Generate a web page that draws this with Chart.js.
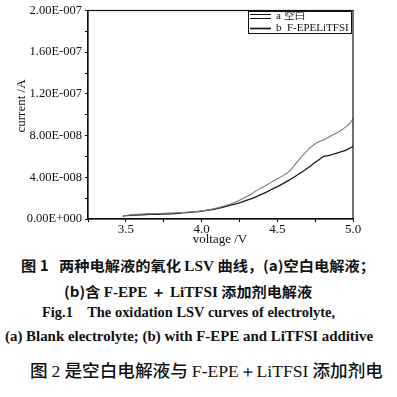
<!DOCTYPE html>
<html>
<head>
<meta charset="utf-8">
<script src="https://cdn.jsdelivr.net/npm/chart.js@4/dist/chart.umd.min.js"></script>
<style>
  body { margin: 0; background: #fff; width: 397px; height: 397px; overflow: hidden; position: relative; }
  #wrap { position: absolute; left: 0; top: 0; width: 397px; height: 250px; }
  .cap { position: absolute; white-space: nowrap; transform-origin: 0 50%; color: #111; line-height: 1; }
  .zh { font-family: "Noto Sans CJK SC", sans-serif; font-weight: 700; }
  .en { font-family: "Liberation Serif", "Times New Roman", serif; font-weight: 700; }
</style>
</head>
<body>
<div id="wrap"><canvas id="lsvChart" width="397" height="250"></canvas></div>

<div class="cap zh" data-l="21" data-r="375" style="top:258px;font-size:14px">图 1&nbsp;&nbsp; 两种电解液的氧化 <span class="en">LSV</span> 曲线，(a)空白电解液；</div>
<div class="cap zh" data-l="64" data-r="312" style="top:284px;font-size:14px">(b)含 <span class="en">F-EPE ＋ LiTFSI</span> 添加剂电解液</div>
<div class="cap en" data-l="42" data-r="335" style="top:306px;font-size:14px">Fig.1&nbsp;&nbsp;&nbsp; The oxidation LSV curves of electrolyte,</div>
<div class="cap en" data-l="5" data-r="373" style="top:330px;font-size:14px">(a) Blank electrolyte; (b) with F-EPE and LiTFSI additive</div>
<div class="cap zh" data-l="30" data-r="383" style="top:361px;font-size:17px;font-weight:500">图 <span style="font-family:'Liberation Serif',serif;font-weight:400">2</span> 是空白电解液与 <span style="font-family:'Liberation Serif',serif;font-weight:400">F-EPE＋LiTFSI</span> 添加剂电</div>

<script>
// values, current in units of 1e-8 A
var voltA = [3.48, 3.55, 3.65, 3.75, 3.85, 3.95, 4.0, 4.07, 4.14, 4.22, 4.30, 4.36, 4.41, 4.465, 4.52, 4.575, 4.61, 4.64, 4.675, 4.71, 4.74, 4.77, 4.82, 4.86, 4.91, 4.95, 4.98, 5.0];
var currA = [0.30, 0.42, 0.50, 0.55, 0.60, 0.70, 0.78, 0.95, 1.20, 1.60, 2.15, 2.70, 3.10, 3.56, 4.00, 4.52, 5.10, 5.63, 6.20, 6.75, 7.10, 7.38, 7.70, 8.02, 8.40, 8.81, 9.20, 9.61];

var voltB = [3.48, 3.55, 3.65, 3.75, 3.85, 3.95, 4.0, 4.07, 4.13, 4.20, 4.26, 4.31, 4.355, 4.41, 4.465, 4.52, 4.575, 4.63, 4.68, 4.73, 4.77, 4.80, 4.82, 4.85, 4.88, 4.92, 4.95, 4.98, 5.0];
var currB = [0.28, 0.38, 0.44, 0.47, 0.55, 0.68, 0.76, 0.90, 1.10, 1.35, 1.60, 1.85, 2.10, 2.45, 2.85, 3.25, 3.70, 4.20, 4.68, 5.20, 5.63, 5.95, 6.05, 6.12, 6.27, 6.45, 6.59, 6.80, 6.97];

var seriesNames = ['a 空白', 'b  F-EPELiTFSI'];
var xTickLabels = ['3.5', '4.0', '4.5', '5.0'];
var yTickValues = [0, 4, 8, 12, 16, 20];
var yTickLabels = ['0.00E+000', '4.00E-008', '8.00E-008', '1.20E-007', '1.60E-007', '2.00E-007'];

function pts(xs, ys) {
  return xs.map(function (x, i) { return { x: x, y: ys[i] }; });
}

var serif = "'Liberation Serif', 'Times New Roman', serif";

// frame, axis titles and the in-plot legend
var decor = {
  id: 'decor',
  afterDraw: function (chart) {
    var ctx = chart.ctx, a = chart.chartArea;
    ctx.save();
    ctx.strokeStyle = '#111';
    ctx.lineWidth = 1.2;
    ctx.strokeRect(a.left, a.top, a.right - a.left, a.bottom - a.top);

    ctx.fillStyle = '#111';
    ctx.font = '13px ' + serif;
    ctx.textAlign = 'center';
    ctx.textBaseline = 'middle';
    ctx.fillText('voltage /V', 220, 240);
    ctx.translate(22, 106);
    ctx.rotate(-Math.PI / 2);
    ctx.fillText('current /A', 0, 0);
    ctx.restore();

    // legend box
    ctx.save();
    ctx.strokeStyle = '#111';
    ctx.lineWidth = 1;
    ctx.strokeRect(248.5, 11.5, 103, 22);
    ctx.beginPath();
    ctx.moveTo(250, 14.5); ctx.lineTo(271, 14.5);
    ctx.moveTo(250, 18.5); ctx.lineTo(271, 18.5);
    ctx.stroke();
    ctx.lineWidth = 1.6;
    ctx.beginPath();
    ctx.moveTo(250, 28.5); ctx.lineTo(271, 28.5);
    ctx.stroke();
    ctx.fillStyle = '#111';
    ctx.font = '11px ' + serif;
    ctx.textAlign = 'left';
    ctx.textBaseline = 'middle';
    ctx.fillText(seriesNames[0], 276, 16.5);
    ctx.fillText(seriesNames[1], 276, 28.5);
    ctx.restore();
  }
};

var ctx = document.getElementById('lsvChart').getContext('2d');
var myChart = new Chart(ctx, {
  type: 'line',
  data: {
    datasets: [{
      label: seriesNames[0],
      data: pts(voltA, currA),
      borderColor: '#7a7a7a',
      borderWidth: 1.1,
      pointRadius: 0,
      cubicInterpolationMode: 'monotone'
    }, {
      label: seriesNames[1],
      data: pts(voltB, currB),
      borderColor: '#1a1a1a',
      borderWidth: 1.3,
      pointRadius: 0,
      cubicInterpolationMode: 'monotone'
    }]
  },
  options: {
    responsive: false,
    animation: false,
    events: [],
    layout: { padding: { top: 9.5, right: 44, left: 0, bottom: 0 } },
    plugins: { legend: { display: false }, tooltip: { enabled: false } },
    scales: {
      x: {
        type: 'linear',
        min: 3.25,
        max: 5.0,
        afterFit: function (s) { s.height = 31; },
        afterBuildTicks: function (s) {
          s.ticks = [3.25, 3.5, 3.75, 4.0, 4.25, 4.5, 4.75, 5.0].map(function (v) { return { value: v }; });
        },
        border: { display: true, color: '#111', width: 1.2 },
        grid: { drawOnChartArea: false, tickLength: 3, color: '#111', lineWidth: 1 },
        ticks: {
          maxRotation: 0,
          autoSkip: false,
          padding: 0,
          color: '#111',
          font: { family: serif, size: 13 },
          callback: function (v) {
            var k = Math.round((v - 3.5) * 2);
            if (Math.abs((v - 3.5) * 2 - k) < 1e-6 && k >= 0 && k < xTickLabels.length) return xTickLabels[k];
            return '';
          }
        }
      },
      y: {
        min: 0,
        max: 20,
        afterFit: function (s) { s.width = 88; },
        afterBuildTicks: function (s) {
          var t = [];
          for (var v = 0; v <= 20; v += 2) t.push({ value: v });
          s.ticks = t;
        },
        border: { display: true, color: '#111', width: 1.2 },
        grid: { drawOnChartArea: false, tickLength: 3, color: '#111', lineWidth: 1 },
        ticks: {
          autoSkip: false,
          padding: 3,
          color: '#111',
          font: { family: serif, size: 12.5 },
          callback: function (v) {
            var i = yTickValues.indexOf(Math.round(v));
            return (i >= 0 && Math.abs(v - Math.round(v)) < 1e-6) ? yTickLabels[i] : '';
          }
        }
      }
    }
  },
  plugins: [decor]
});

// stretch each caption line to its span in the reference
document.querySelectorAll('.cap').forEach(function (el) {
  var l = +el.dataset.l, r = +el.dataset.r;
  el.style.left = l + 'px';
  var w = el.getBoundingClientRect().width;
  el.style.transform = 'scaleX(' + ((r - l) / w) + ')';
});
</script>
</body>
</html>
